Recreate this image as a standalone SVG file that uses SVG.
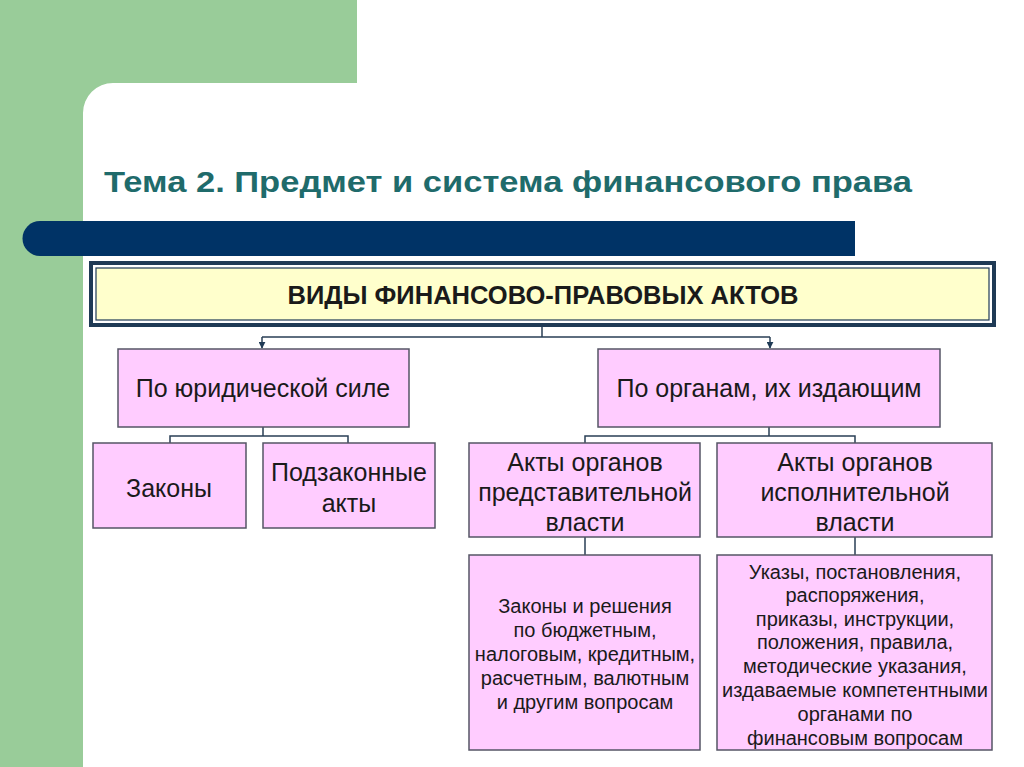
<svg xmlns="http://www.w3.org/2000/svg" width="1024" height="767" viewBox="0 0 1024 767">
<defs>
<style>
.box{fill:#ffccff;stroke:#555566;stroke-width:1.5}
.t{font-family:"Liberation Sans",Arial,sans-serif;fill:#1a1a1a;text-anchor:middle}
.big{font-size:25px}
.sm{font-size:20px}
.con{fill:none;stroke:#2a3f55;stroke-width:1.5}
</style>
<marker id="arr" viewBox="0 0 10 10" refX="9" refY="5" markerWidth="7" markerHeight="7" orient="auto" markerUnits="userSpaceOnUse">
<path d="M0,0 L10,5 L0,10 z" fill="#1f3a55"/>
</marker>
</defs>
<rect x="0" y="0" width="1024" height="767" fill="#ffffff"/>
<g id="background">
<path d="M0,0 H357 V83 H113 A30,30 0 0 0 83,113 V767 H0 Z" fill="#99cc99"/>
<path d="M40,221 H855 V256 H40 A17.5,17.5 0 0 1 40,221 Z" fill="#003366"/>
<text x="104" y="192" font-family="'Liberation Sans',Arial,sans-serif" font-weight="bold" font-size="29" fill="#1f6b6b" textLength="808" lengthAdjust="spacingAndGlyphs">Тема 2. Предмет и система финансового права</text>
</g>
<g id="connectors">
<path class="con" d="M542,327 V337 M262,337 H770"/>
<path class="con" d="M262,337 V348" marker-end="url(#arr)"/>
<path class="con" d="M770,337 V348" marker-end="url(#arr)"/>
<path class="con" d="M263,427 V436 M170,443 V436 H348 V443"/>
<path class="con" d="M769,427 V436 M585,443 V436 H855 V443"/>
<path class="con" d="M585,537 V555 M855,537 V555"/>
</g>
<g id="header">
<rect x="91" y="263" width="903" height="62" fill="#ffffff" stroke="#1f3a55" stroke-width="4"/>
<rect x="96" y="268" width="893" height="52" fill="#ffffcc" stroke="#1f3a55" stroke-width="1.2"/>
<text class="t" x="543" y="304" font-size="25" font-weight="bold" fill="#111" textLength="511" lengthAdjust="spacingAndGlyphs">ВИДЫ ФИНАНСОВО-ПРАВОВЫХ АКТОВ</text>
</g>
<g id="n-yur">
<rect class="box" x="118" y="349" width="291" height="78"/>
<text class="t big" x="263" y="397">По юридической силе</text>
</g>
<g id="n-org">
<rect class="box" x="598" y="349" width="342" height="78"/>
<text class="t big" x="769" y="397">По органам, их издающим</text>
</g>
<g id="n-zakony">
<rect class="box" x="93" y="443" width="153" height="85"/>
<text class="t big" x="169" y="497">Законы</text>
</g>
<g id="n-podzak">
<rect class="box" x="263" y="443" width="172" height="85"/>
<text class="t big" x="349" y="481">Подзаконные</text>
<text class="t big" x="349" y="512">акты</text>
</g>
<g id="n-pred">
<rect class="box" x="469" y="443" width="231" height="94"/>
<text class="t big" x="585" y="471">Акты органов</text>
<text class="t big" x="585" y="501">представительной</text>
<text class="t big" x="585" y="531">власти</text>
</g>
<g id="n-isp">
<rect class="box" x="717" y="443" width="275" height="94"/>
<text class="t big" x="855" y="471">Акты органов</text>
<text class="t big" x="855" y="501">исполнительной</text>
<text class="t big" x="855" y="531">власти</text>
</g>
<g id="n-pred-list">
<rect class="box" x="469" y="555" width="231" height="195"/>
<text class="t sm" x="585" y="613">Законы и решения</text>
<text class="t sm" x="585" y="637">по бюджетным,</text>
<text class="t sm" x="585" y="661">налоговым, кредитным,</text>
<text class="t sm" x="585" y="685">расчетным, валютным</text>
<text class="t sm" x="585" y="709">и другим вопросам</text>
</g>
<g id="n-isp-list">
<rect class="box" x="717" y="555" width="275" height="195"/>
<text class="t sm" x="855" y="579">Указы, постановления,</text>
<text class="t sm" x="855" y="602">распоряжения,</text>
<text class="t sm" x="855" y="626">приказы, инструкции,</text>
<text class="t sm" x="855" y="649">положения, правила,</text>
<text class="t sm" x="855" y="673">методические указания,</text>
<text class="t sm" x="855" y="697">издаваемые компетентными</text>
<text class="t sm" x="855" y="721">органами по</text>
<text class="t sm" x="855" y="745">финансовым вопросам</text>
</g>
</svg>
